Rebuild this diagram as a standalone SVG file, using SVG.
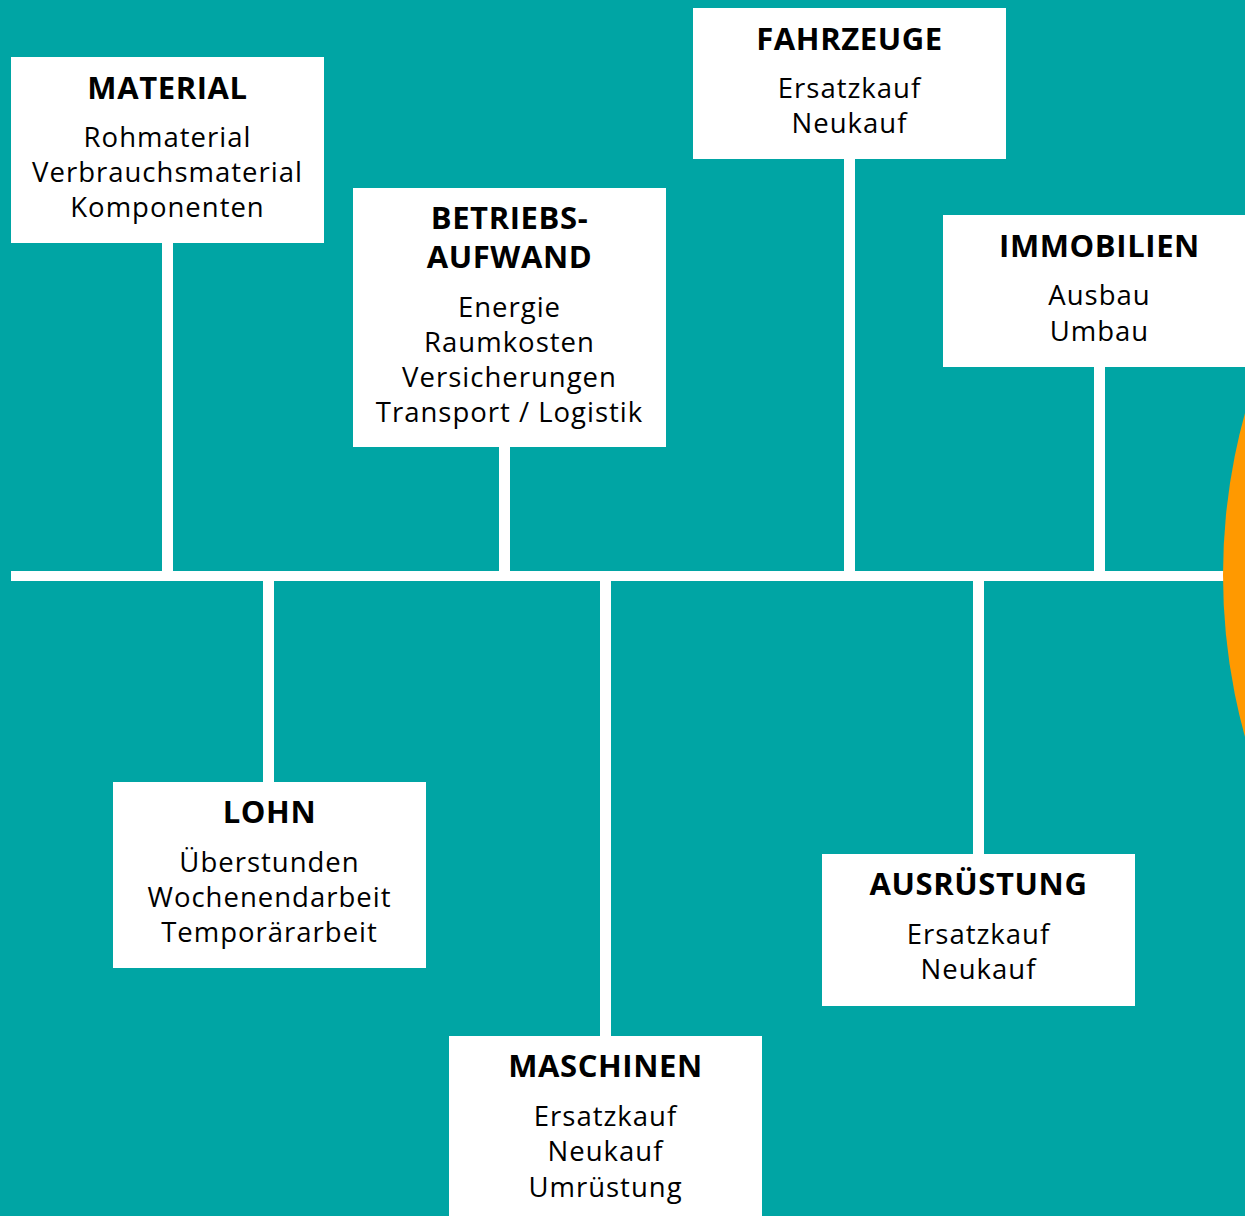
<svg xmlns="http://www.w3.org/2000/svg" width="1245" height="1216" viewBox="0 0 1245 1216">
<style>
.box{fill:#ffffff}
.ln{fill:#ffffff}
.t{font-family:"Open Sans","Noto Sans",sans-serif;font-weight:700;font-size:31px;letter-spacing:0.6px;fill:#000;text-anchor:middle}
.b{font-family:"Open Sans","Noto Sans",sans-serif;font-weight:400;font-size:27.5px;letter-spacing:1px;fill:#000;text-anchor:middle}
</style>
<rect x="0" y="0" width="1245" height="1216" fill="#00A5A4"/>
<g id="connectors">
<rect class="ln" x="11" y="571" width="1222" height="10"/>
<rect class="ln" x="162" y="242" width="11" height="330"/>
<rect class="ln" x="499" y="446" width="11" height="126"/>
<rect class="ln" x="844" y="158" width="11" height="414"/>
<rect class="ln" x="1094" y="365" width="11" height="207"/>
<rect class="ln" x="263" y="580" width="11" height="203"/>
<rect class="ln" x="600" y="580" width="11" height="457"/>
<rect class="ln" x="973" y="580" width="11" height="275"/>
</g>
<circle cx="1830.5" cy="575" r="607.5" fill="#FF9900"/>
<g id="material">
<rect class="box" x="11" y="57" width="313" height="186"/>
<text class="t" x="167.5" y="99">MATERIAL</text>
<text class="b" x="167.5" y="147">Rohmaterial</text>
<text class="b" x="167.5" y="182">Verbrauchsmaterial</text>
<text class="b" x="167.5" y="217">Komponenten</text>
</g>
<g id="betriebsaufwand">
<rect class="box" x="353" y="188" width="313" height="259"/>
<text class="t" x="509.5" y="229">BETRIEBS-</text>
<text class="t" x="509.5" y="268">AUFWAND</text>
<text class="b" x="509.5" y="317">Energie</text>
<text class="b" x="509.5" y="352">Raumkosten</text>
<text class="b" x="509.5" y="387">Versicherungen</text>
<text class="b" x="509.5" y="422">Transport / Logistik</text>
</g>
<g id="fahrzeuge">
<rect class="box" x="693" y="8" width="313" height="151"/>
<text class="t" x="849.5" y="50">FAHRZEUGE</text>
<text class="b" x="849.5" y="98">Ersatzkauf</text>
<text class="b" x="849.5" y="133">Neukauf</text>
</g>
<g id="immobilien">
<rect class="box" x="943" y="215" width="313" height="152"/>
<text class="t" x="1099.5" y="257">IMMOBILIEN</text>
<text class="b" x="1099.5" y="305">Ausbau</text>
<text class="b" x="1099.5" y="341">Umbau</text>
</g>
<g id="lohn">
<rect class="box" x="113" y="782" width="313" height="186"/>
<text class="t" x="269.5" y="823">LOHN</text>
<text class="b" x="269.5" y="872">Überstunden</text>
<text class="b" x="269.5" y="907">Wochenendarbeit</text>
<text class="b" x="269.5" y="942">Temporärarbeit</text>
</g>
<g id="maschinen">
<rect class="box" x="449" y="1036" width="313" height="190"/>
<text class="t" x="605.5" y="1077">MASCHINEN</text>
<text class="b" x="605.5" y="1126">Ersatzkauf</text>
<text class="b" x="605.5" y="1161">Neukauf</text>
<text class="b" x="605.5" y="1197">Umrüstung</text>
</g>
<g id="ausruestung">
<rect class="box" x="822" y="854" width="313" height="152"/>
<text class="t" x="978.5" y="895">AUSRÜSTUNG</text>
<text class="b" x="978.5" y="944">Ersatzkauf</text>
<text class="b" x="978.5" y="979">Neukauf</text>
</g>
</svg>
